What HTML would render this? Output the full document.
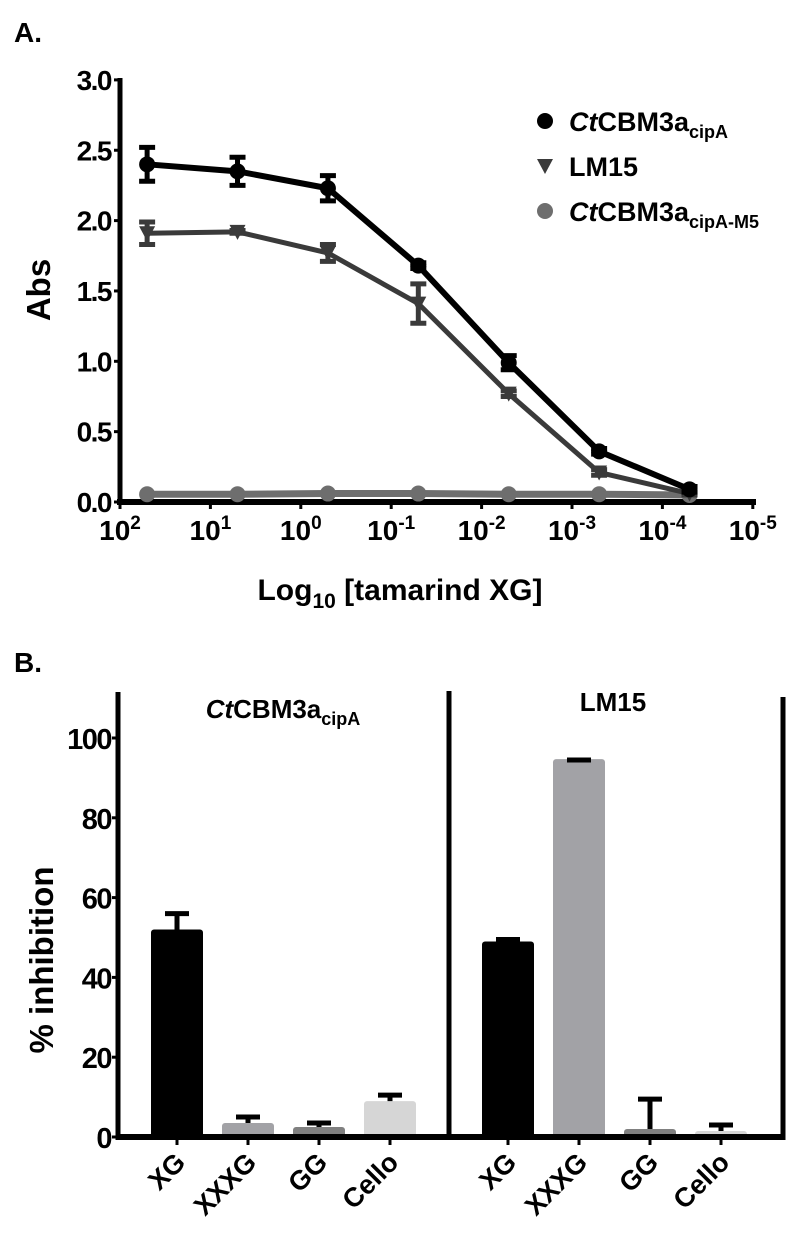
<!DOCTYPE html>
<html><head><meta charset="utf-8"><style>
html,body{margin:0;padding:0;background:#fff;}
svg{display:block;font-family:"Liberation Sans",sans-serif;font-weight:bold;}
</style></head><body>
<svg id="s" width="800" height="1242" viewBox="0 0 800 1242" xmlns="http://www.w3.org/2000/svg">
<text x="14" y="42" font-size="28">A.</text>
<text x="14" y="672" font-size="28">B.</text>
<g id="ga"></g>
<g id="gb"></g>
</svg>
<script>
// ---- Panel A data ----
const xLogs = [1.7, 0.7, -0.3, -1.3, -2.3, -3.3, -4.3];
const cbmVals = [2.40, 2.35, 2.23, 1.68, 0.99, 0.36, 0.09];
const cbmErr = [0.12, 0.10, 0.09, 0.02, 0.05, 0.02, 0.02];
const lm15Vals = [1.91, 1.92, 1.77, 1.41, 0.77, 0.21, 0.06];
const lm15Err = [0.08, 0.01, 0.06, 0.14, 0.02, 0.02, 0.01];
const m5Vals = [0.055, 0.055, 0.06, 0.06, 0.055, 0.055, 0.05];
const xTickExp = [2, 1, 0, -1, -2, -3, -4, -5];
const yTicksA = [0, 0.5, 1.0, 1.5, 2.0, 2.5, 3.0];
// ---- Panel B data ----
const bCats = ["XG", "XXXG", "GG", "Cello"];
const cbmBar = [52, 3.5, 2.5, 9];
const cbmBarErr = [4.5, 2, 1.5, 2];
const lmBar = [49, 94.7, 2, 1.5];
const lmBarErr = [1, 0.3, 8, 2];
const yTicksB = [0, 20, 40, 60, 80, 100];

const NS = "http://www.w3.org/2000/svg";
function mk(tag, attrs, parent, txt) {
  const e = document.createElementNS(NS, tag);
  for (const k in attrs) e.setAttribute(k, attrs[k]);
  if (txt !== undefined) e.textContent = txt;
  parent.appendChild(e);
  return e;
}
const xA = l => 120 + (2 - l) * 90.4;
const yA = v => 502 - v * 140.7;
const ga = document.getElementById('ga');

let ax = mk('line', {x1:120, y1:78, x2:120, y2:504, stroke:'#000', 'stroke-width':5}, ga);


ax = mk('line', {x1:117, y1:502, x2:756, y2:502, stroke:'#000', 'stroke-width':6}, ga);


yTicksA.forEach(v => {
  const t = mk('line', {x1:114, y1:yA(v), x2:120, y2:yA(v), stroke:'#000', 'stroke-width':3}, ga);
  
  
  const l = mk('text', {x:111, y:yA(v)+10, 'font-size':28, 'text-anchor':'end', 'letter-spacing':'-1.5'}, ga, v.toFixed(1));
  
  
});
xTickExp.forEach(e => {
  const x = xA(e);
  const t = mk('line', {x1:x, y1:502, x2:x, y2:509, stroke:'#000', 'stroke-width':3}, ga);
  
  
  const l = mk('text', {x:x, y:540, 'font-size':28, 'text-anchor':'middle'}, ga);
  
  
  mk('tspan', {}, l, '10');
  mk('tspan', {dy:-11, 'font-size':19}, l, String(e));
});
let tt = mk('text', {x:400, y:600, 'font-size':30, 'text-anchor':'middle'}, ga);


mk('tspan', {}, tt, 'Log');
mk('tspan', {dy:8, 'font-size':21}, tt, '10');
mk('tspan', {dy:-8}, tt, ' [tamarind XG]');
tt = mk('text', {x:0, y:0, 'font-size':33, 'text-anchor':'middle', transform:'translate(50,290) rotate(-90)'}, ga, 'Abs');



function series(vals, errs, color, w, name, marker) {
  const g = mk('g', {}, ga);
  
  
  const pts = vals.map((v, i) => xA(xLogs[i]) + ',' + yA(v)).join(' ');
  mk('polyline', {points:pts, fill:'none', stroke:color, 'stroke-width':w, 'stroke-linejoin':'round'}, g);
  vals.forEach((v, i) => {
    const x = xA(xLogs[i]), y = yA(v);
    if (errs) {
      const e = errs[i];
      const eb = mk('path', {d:`M${x},${yA(v+e)}V${yA(v-e)}M${x-8},${yA(v+e)}H${x+8}M${x-8},${yA(v-e)}H${x+8}`, stroke:color, 'stroke-width':5, fill:'none'}, g);
      
      
    }
    let m;
    if (marker === 'tri') m = mk('path', {d:`M${x-8},${y-7}H${x+8}L${x},${y+8}Z`, fill:color}, g);
    else m = mk('circle', {cx:x, cy:y, r:8, fill:color}, g);
    
    
  });
}
series(m5Vals, null, '#6e6e6e', 7, 'cbm-m5', 'circle');
series(lm15Vals, lm15Err, '#3a3a3a', 5, 'lm15', 'tri');
series(cbmVals, cbmErr, '#000', 6, 'cbm3a', 'circle');

const leg = [
  {y:121, c:'#000', m:'circle', parts:[['Ct','italic'],['CBM3a',''],['cipA','sub']]},
  {y:166, c:'#3a3a3a', m:'tri', parts:[['LM15','']]},
  {y:211, c:'#6e6e6e', m:'circle', parts:[['Ct','italic'],['CBM3a',''],['cipA-M5','sub']]}
];
leg.forEach(L => {
  const g = mk('g', {}, ga);
  
  
  if (L.m === 'tri') mk('path', {d:`M537,${L.y-7}H553L545,${L.y+8}Z`, fill:L.c}, g);
  else mk('circle', {cx:545, cy:L.y, r:8, fill:L.c}, g);
  const t = mk('text', {x:569, y:L.y+10, 'font-size':27}, g);
  L.parts.forEach(p => {
    if (p[1] === 'italic') mk('tspan', {'font-style':'italic'}, t, p[0]);
    else if (p[1] === 'sub') mk('tspan', {dy:7, 'font-size':18}, t, p[0]);
    else mk('tspan', {}, t, p[0]);
  });
});

// Panel B
const gb = document.getElementById('gb');
const yB = v => 1137 - v * 3.99;
const cbmX = [177, 248, 319, 390];
const lmX = [508, 579, 650, 721];
const colors = ['#000', '#a2a2a6', '#808080', '#d6d6d6'];
[['y-axis-left',118,692],['panel-divider',449,691],['y-axis-right',783,697]].forEach(a => {
  const l = mk('line', {x1:a[1], y1:a[2], x2:a[1], y2:1140, stroke:'#000', 'stroke-width':5}, gb);
  
  
});
yTicksB.forEach(v => {
  const t = mk('line', {x1:112, y1:yB(v), x2:118, y2:yB(v), stroke:'#000', 'stroke-width':3}, gb);
  
  
  const l = mk('text', {x:111, y:yB(v)+11, 'font-size':29, 'text-anchor':'end', 'letter-spacing':'-1.5'}, gb, String(v));
  
  
});
tt = mk('text', {x:0, y:0, 'font-size':33, 'text-anchor':'middle', transform:'translate(53,960) rotate(-90)'}, gb, '% inhibition');


tt = mk('text', {x:283, y:718, 'font-size':26, 'text-anchor':'middle'}, gb);


mk('tspan', {'font-style':'italic'}, tt, 'Ct');
mk('tspan', {}, tt, 'CBM3a');
mk('tspan', {dy:7, 'font-size':18}, tt, 'cipA');
tt = mk('text', {x:613, y:711, 'font-size':26, 'text-anchor':'middle'}, gb, 'LM15');



function bars(xs, vals, errs, grp) {
  vals.forEach((v, i) => {
    const x = xs[i];
    const b = mk('rect', {x:x-26, y:yB(v), width:52, height:1137-yB(v), rx:3, fill:colors[i]}, gb);
    
    
    const e = errs[i];
    const eb = mk('path', {d:`M${x},${yB(v)}V${yB(v+e)}M${x-12},${yB(v+e)+2}H${x+12}`, stroke:'#000', 'stroke-width':5, fill:'none'}, gb);
    
    
    const tk = mk('line', {x1:x, y1:1137, x2:x, y2:1145, stroke:'#000', 'stroke-width':3}, gb);
    
    
    const lb = mk('text', {x:0, y:0, 'font-size':27, 'text-anchor':'end', transform:`translate(${x+10},${1164}) rotate(-45)`}, gb, bCats[i]);
    
    
  });
}
bars(cbmX, cbmBar, cbmBarErr, 'cbm3a');
bars(lmX, lmBar, lmBarErr, 'lm15');
ax = mk('line', {x1:116, y1:1137, x2:785, y2:1137, stroke:'#000', 'stroke-width':6}, gb);


</script>
</body></html>
